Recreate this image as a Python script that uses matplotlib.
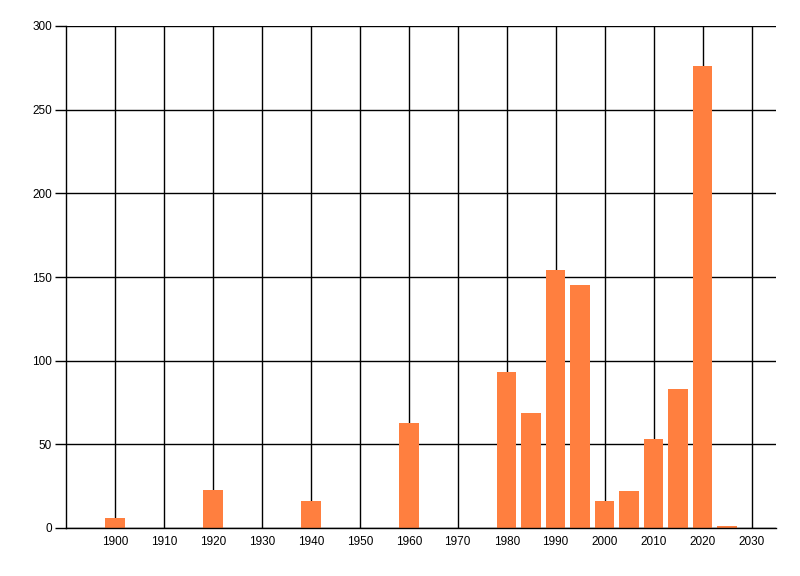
"""Bar chart of counts per 5-year bin, 1900-2025."""

import matplotlib
matplotlib.use("Agg")
import matplotlib.pyplot as plt

YEARS = [1900, 1920, 1940, 1960, 1980, 1985, 1990, 1995, 2000, 2005, 2010, 2015, 2020, 2025]
COUNTS = [6, 23, 16, 63, 93, 69, 154, 145, 16, 22, 53, 83, 276, 1]
X_TICKS = list(range(1900, 2031, 10))
Y_TICKS = [0, 50, 100, 150, 200, 250, 300]

BAR_COLOR = "#FF7F3F"


def main() -> None:
    plt.rcParams["font.family"] = ["Liberation Sans", "DejaVu Sans"]
    fig = plt.figure(figsize=(8, 5.76), dpi=100)
    ax = fig.add_axes([66 / 800, 1 - 528 / 576, 710 / 800, 502 / 576])

    ax.bar(YEARS, COUNTS, width=4, color=BAR_COLOR, zorder=3)

    ax.set_xlim(1890, 2035)
    ax.set_ylim(0, 300)
    ax.set_xticks(X_TICKS)
    ax.set_yticks(Y_TICKS)
    ax.grid(True, color="black", linewidth=1, zorder=0)
    ax.set_axisbelow(True)

    for side in ("top", "right"):
        ax.spines[side].set_visible(False)
    for side in ("left", "bottom"):
        ax.spines[side].set_linewidth(1)
        ax.spines[side].set_zorder(4)

    ax.tick_params(axis="x", length=0, pad=5.5, labelsize=8.5)
    ax.tick_params(axis="y", length=8, width=1, pad=2, labelsize=8.5)

    fig.savefig("out.png", dpi=100)


if __name__ == "__main__":
    main()
